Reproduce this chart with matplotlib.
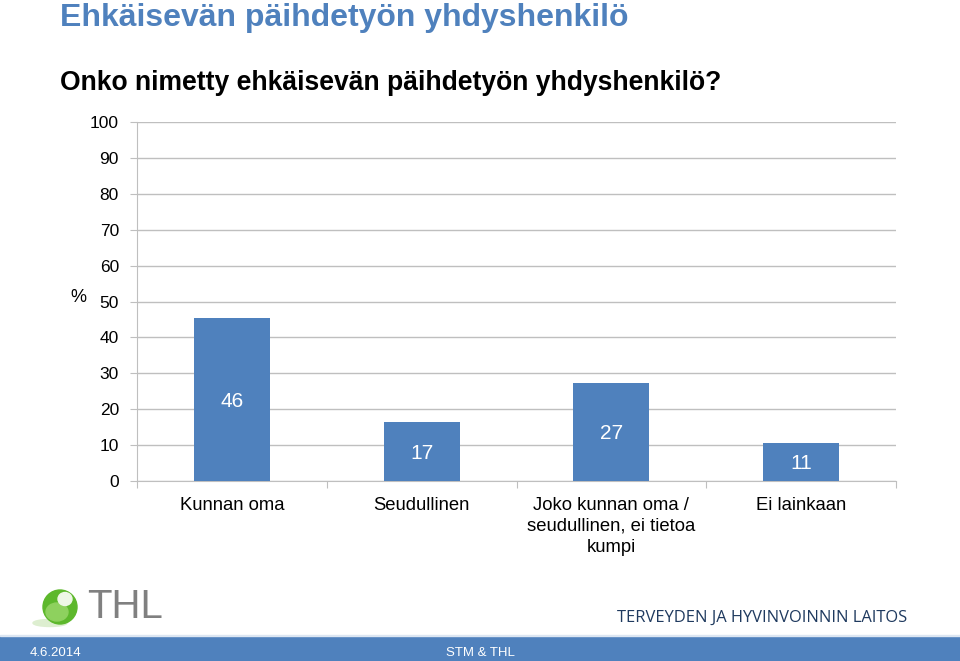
import matplotlib.pyplot as plt
from matplotlib.patches import Ellipse, Rectangle

plt.rcParams['font.family'] = ['Liberation Sans', 'DejaVu Sans']

categories = ['Kunnan oma', 'Seudullinen',
              'Joko kunnan oma /\nseudullinen, ei tietoa\nkumpi', 'Ei lainkaan']
values = [45.5, 16.3, 27.3, 10.6]          # bar heights as drawn
value_labels = ['46', '17', '27', '11']    # printed labels
yticks = list(range(0, 101, 10))

blue = '#4F81BD'
grid_col = '#BFBFBF'

fig = plt.figure(figsize=(9.6, 6.61), dpi=100)
ax = fig.add_axes([137/960, 1-481/661, (896-137)/960, (481-122)/661])

x = range(len(categories))
bars = ax.bar(x, values, width=0.4, color=blue, zorder=3)
for b, lab in zip(bars, value_labels):
    ax.text(b.get_x() + b.get_width()/2, b.get_height()/2 - 0.5, lab,
            ha='center', va='center', color='white', fontsize=15, zorder=4)

ax.set_xlim(-0.5, len(categories) - 0.5)
ax.set_ylim(0, 100)
ax.set_yticks(yticks)
ax.tick_params(axis='y', labelsize=12.5, length=5, color=grid_col, pad=8)
ax.grid(axis='y', color=grid_col, linewidth=1, zorder=0)

ax.set_xticks([i - 0.5 for i in range(len(categories) + 1)])
ax.set_xticklabels([])
ax.tick_params(axis='x', length=5, color=grid_col)
for i, c in enumerate(categories):
    ax.text(i, -4.4, c, ha='center', va='top', fontsize=13.3,
            linespacing=1.3)

for s in ['top', 'right']:
    ax.spines[s].set_visible(False)
for s in ['left', 'bottom']:
    ax.spines[s].set_color(grid_col)

fig.text(78/960, 1-298/661, '%', ha='center', va='center', fontsize=13)

# titles
fig.text(60/960, 1-18/661, 'Ehkäisevän päihdetyön yhdyshenkilö',
         ha='left', va='center', fontsize=23, fontweight='bold', color=blue)
fig.text(60/960, 1-83/661, 'Onko nimetty ehkäisevän päihdetyön yhdyshenkilö?',
         ha='left', va='center', fontsize=19.1, fontweight='bold', color='black')

# footer bar
fig.patches.append(Rectangle((0, 0), 1, 25/661, transform=fig.transFigure,
                             color=blue, zorder=0))
fig.patches.append(Rectangle((0, 25/661), 1, 1.5/661, transform=fig.transFigure,
                             color='#DCE6F2', zorder=0))
fig.text(30/960, 1-653/661, '4.6.2014', ha='left', va='center',
         fontsize=9.5, color='white')
fig.text(480/960, 1-653/661, 'STM & THL', ha='center', va='center',
         fontsize=9.5, color='white')

# THL logo
fig.patches.append(Ellipse((50/960, 1-623/661), 34/960, 7/661,
                           transform=fig.transFigure, color='#DDEED0', zorder=1))
fig.patches.append(Ellipse((60/960, 1-607/661), 34/960, 34/661,
                           transform=fig.transFigure, color='#5DB82C', zorder=2))
fig.patches.append(Ellipse((57/960, 1-612/661), 22/960, 18/661,
                           transform=fig.transFigure, color='#8ED15E', zorder=3))
fig.patches.append(Ellipse((65/960, 1-599/661), 14/960, 13/661,
                           transform=fig.transFigure, color='#EEF7E6', zorder=4))
fig.text(87/960, 1-607/661, 'THL', ha='left', va='center', fontsize=29,
         color='#808080')
fig.text(907/960, 1-618/661, 'TERVEYDEN JA HYVINVOINNIN LAITOS',
         ha='right', va='center', fontsize=11.9, color='#1F3A5F',
         family=['Open Sans', 'DejaVu Sans'])

fig.savefig('out.png', dpi=100)
